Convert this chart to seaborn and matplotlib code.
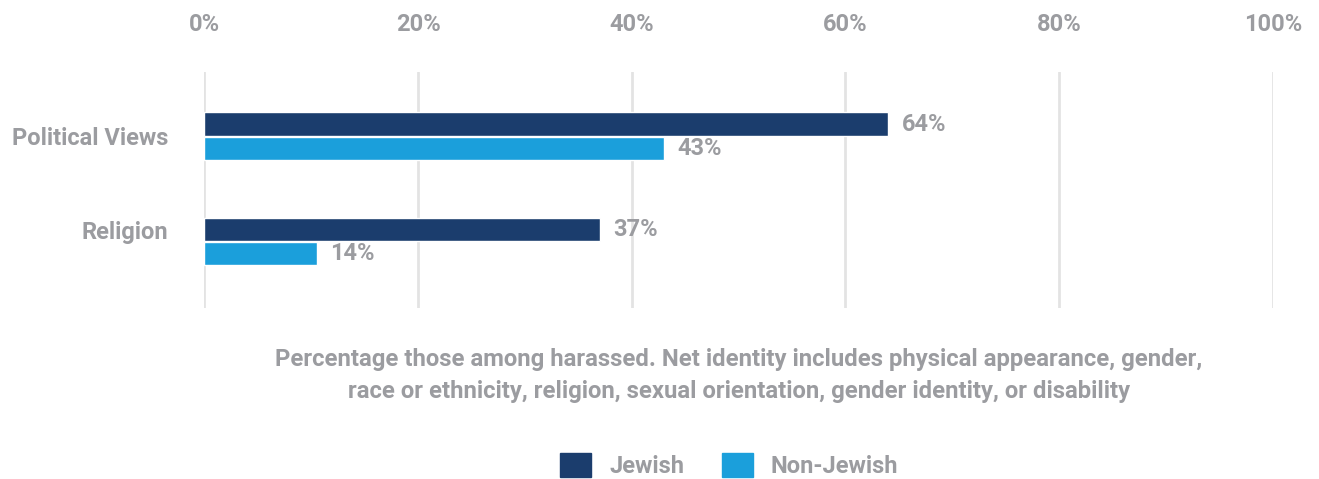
import pandas as pd
import matplotlib.pyplot as plt
import matplotlib.transforms as mtransforms
from matplotlib.patches import Patch
import seaborn as sns

categories = ["Political Views", "Religion"]
groups = ["Jewish", "Non-Jewish"]
jewish = [64, 37]
non_jewish = [43, 10.5]
jewish_labels = ["64%", "37%"]
non_jewish_labels = ["43%", "14%"]
ticks = [0, 20, 40, 60, 80, 100]
caption = ("Percentage those among harassed. Net identity includes physical appearance, gender,\n"
           "race or ethnicity, religion, sexual orientation, gender identity, or disability")

df = pd.DataFrame({
    "category": categories * 2,
    "group": [groups[0]] * 2 + [groups[1]] * 2,
    "value": jewish + non_jewish,
})

sns.set_style("white")
plt.rcParams['font.family'] = ['Roboto', 'DejaVu Sans']
gray = "#9b9ca0"
colors = {"Jewish": "#1b3d6d", "Non-Jewish": "#1b9fdb"}
fs = 17

fig = plt.figure(figsize=(13.19, 4.79), dpi=100)
ax = fig.add_axes([0.155, 0.357, 0.81, 0.493])

sns.barplot(data=df, y="category", x="value", hue="group", palette=colors,
            orient="h", width=0.46, gap=0.03, saturation=1, legend=False, ax=ax, zorder=3)

for cont, labs in zip(ax.containers, [jewish_labels, non_jewish_labels]):
    ax.bar_label(cont, labels=labs, padding=10, color=gray, fontsize=fs, fontweight="bold")

ax.set_xlim(0, 100)
ax.set_ylim(1.63, -0.61)
ax.set_xticks(ticks)
ax.set_xticklabels([f"{t}%" for t in ticks])
ax.xaxis.tick_top()
ax.tick_params(axis="x", length=0, pad=26, labelsize=fs, labelcolor=gray)
ax.tick_params(axis="y", length=0, pad=26, labelsize=fs, labelcolor=gray)
for lab in ax.get_xticklabels() + ax.get_yticklabels():
    lab.set_fontweight("bold")
# the Religion label sits a little above its bars in the original
rel = ax.get_yticklabels()[1]
rel.set_transform(rel.get_transform() + mtransforms.ScaledTranslation(0, 8 / 72, fig.dpi_scale_trans))
ax.set_xlabel("")
ax.set_ylabel("")
ax.grid(axis="x", color="#e3e3e3", linewidth=2)
sns.despine(ax=ax, left=True, bottom=True, top=True, right=True)

fig.text(0.560, 0.216, caption, ha="center", va="center", color=gray,
         fontsize=17.2, fontweight="bold", linespacing=1.55)

handles = [Patch(color=colors[g]) for g in groups]
fig.legend(handles, groups, loc="center", bbox_to_anchor=(0.553, 0.029),
           ncol=2, frameon=False, handlelength=1.31, handleheight=1.19,
           columnspacing=1.6, handletextpad=0.76,
           prop={"weight": "bold", "size": fs})
for t in fig.legends[0].get_texts():
    t.set_color(gray)

fig.savefig("out.png", dpi=100)
